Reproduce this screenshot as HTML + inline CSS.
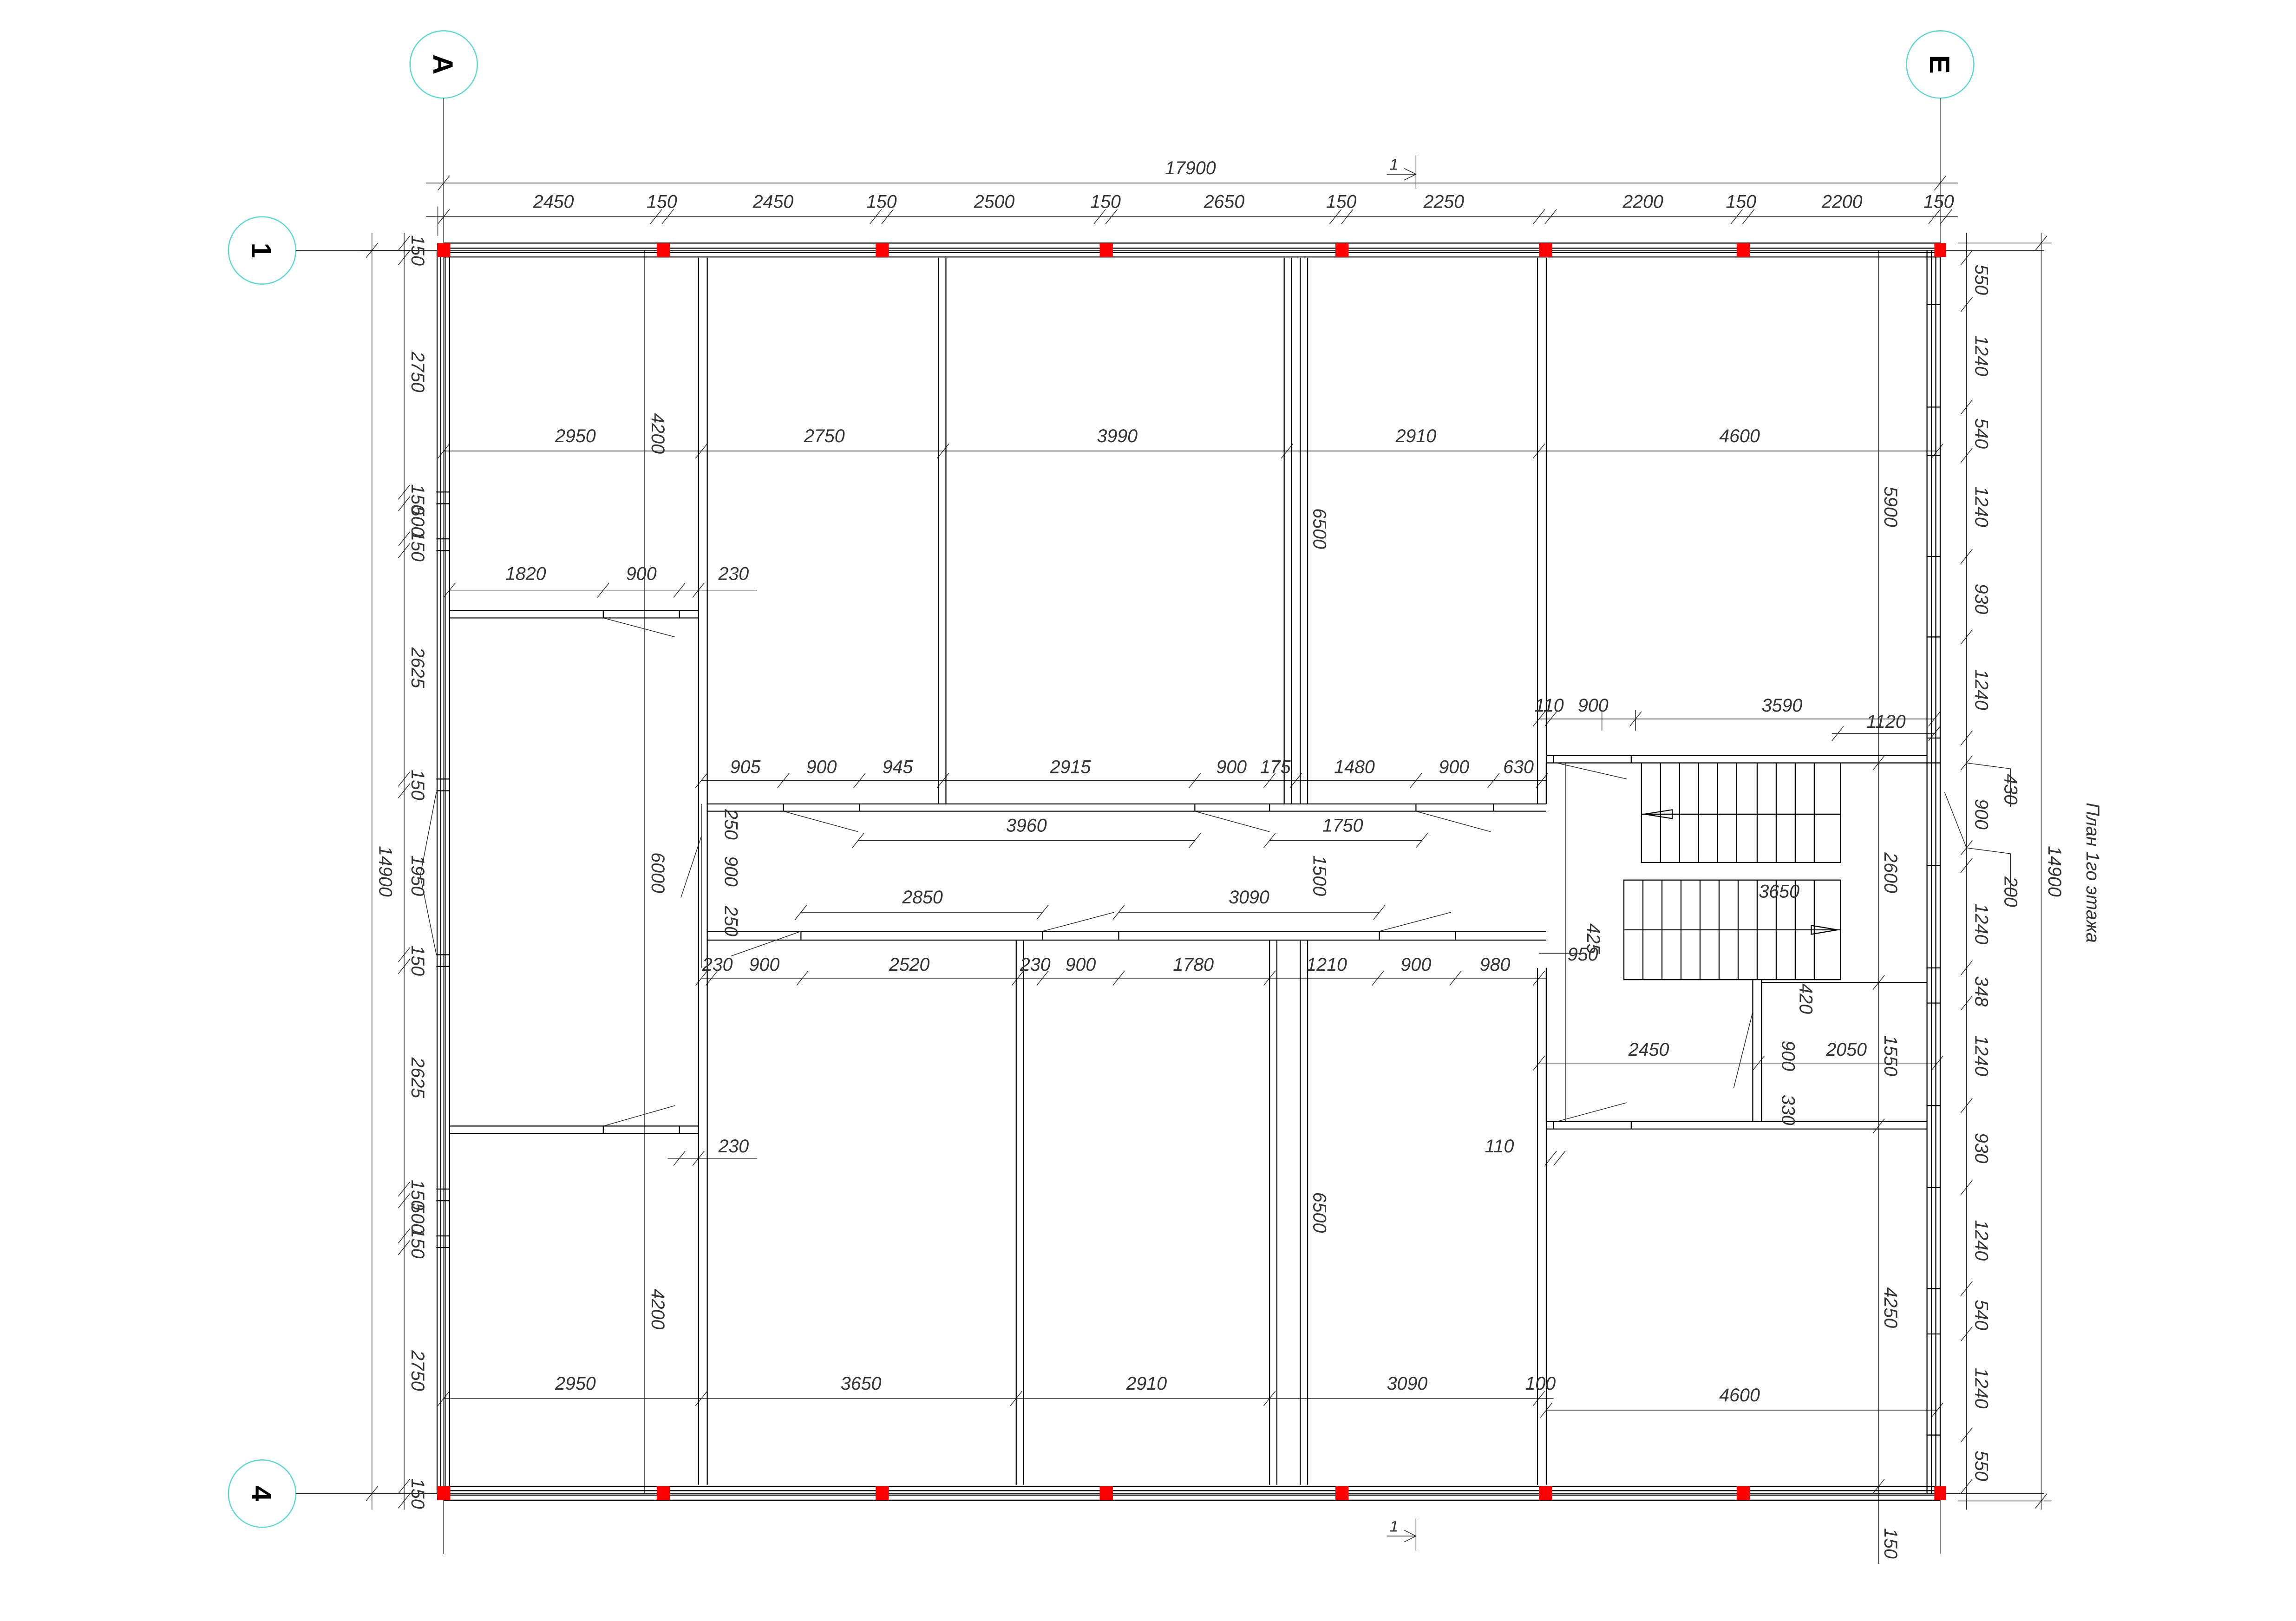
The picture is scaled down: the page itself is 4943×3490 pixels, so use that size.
<!DOCTYPE html>
<html><head><meta charset="utf-8"><style>
html,body{margin:0;padding:0;background:#fff}
svg{display:block}
.w{stroke:#000;stroke-width:.7;fill:none}
.t{stroke:#222;stroke-width:.45;fill:none}
.d{font-family:"Liberation Sans",sans-serif;font-style:italic;font-size:12.5px;fill:#333;text-anchor:middle}
.ax{font-family:"Liberation Sans",sans-serif;font-weight:bold;font-size:19px;fill:#000;text-anchor:middle}
.c{fill:none;stroke:#5fd6d0;stroke-width:.8}
.col{fill:#f00}
</style></head><body>
<svg width="4943" height="3490" viewBox="-1 -1 1568 1107" preserveAspectRatio="none" xmlns="http://www.w3.org/2000/svg">
<defs><path id="k" d="M-4 5L4 -5" stroke="#222" stroke-width=".45"/></defs>
<!-- axis circles -->
<circle class="c" cx="302" cy="43" r="23"/><circle class="c" cx="1324" cy="43" r="23"/>
<circle class="c" cx="178" cy="170" r="23"/><circle class="c" cx="178" cy="1019" r="23"/>
<text class="ax" transform="translate(302 43) rotate(90)" y="7">А</text>
<text class="ax" transform="translate(1324 43) rotate(90)" y="7">Е</text>
<text class="ax" transform="translate(178 170) rotate(90)" y="7">1</text>
<text class="ax" transform="translate(178 1019) rotate(90)" y="7">4</text>
<g class="t">
<path d="M302 66V1060M1324 66V1060M201 170H1395M201 1019H1395"/>
<!-- top dims -->
<path d="M290 124H1336M290 147H1336M966 105V128M946 118H966M298 140V160"/>
<path d="M958 114L966 118L958 122"/>
<path d="M966 1036V1058M946 1048H966M958 1044L966 1048L958 1052"/>
<!-- left dims -->
<path d="M253 158V1030M275 158V1030M245 170H290M245 1019H290"/>
<!-- right dims -->
<path d="M1342 158V1030M1393 158V1030M1336 165H1400M1336 1024H1400"/>
<path d="M1342 520L1372 524V550M1342 578L1372 582V610M1327 540L1342 578"/>
<!-- interior dims -->
<path d="M302 307H1322M439 170V1019M1282 170V1067"/>
<path d="M306 402H516M455 790H516"/>
<path d="M478 532H1055M585 573H815M866 573H970M546 622H711M763 622H941M478 667H1055"/>
<path d="M302 954H1060M1055 962H1322M1050 725H1322M1050 490H1320M1250 500H1320"/>
<path d="M1116 484V498M1093 484V498"/>
<path d="M478 548V660"/>
<path d="M1068 520V765"/>
</g>
<!-- ticks -->
<g>
<use href="#k" x="302" y="124"/><use href="#k" x="1324" y="124"/>
<use href="#k" x="302" y="147"/><use href="#k" x="447" y="147"/><use href="#k" x="455" y="147"/><use href="#k" x="597" y="147"/><use href="#k" x="605" y="147"/><use href="#k" x="750" y="147"/><use href="#k" x="758" y="147"/><use href="#k" x="911" y="147"/><use href="#k" x="919" y="147"/><use href="#k" x="1050" y="147"/><use href="#k" x="1058" y="147"/><use href="#k" x="1185" y="147"/><use href="#k" x="1193" y="147"/><use href="#k" x="1320" y="147"/><use href="#k" x="1328" y="147"/>
<use href="#k" x="253" y="170"/><use href="#k" x="253" y="1019"/><use href="#k" x="1393" y="165"/><use href="#k" x="1393" y="1024"/>
<use href="#k" x="275" y="165"/><use href="#k" x="275" y="175"/><use href="#k" x="275" y="335"/><use href="#k" x="275" y="343"/><use href="#k" x="275" y="367"/><use href="#k" x="275" y="375"/><use href="#k" x="275" y="531"/><use href="#k" x="275" y="539"/><use href="#k" x="275" y="651"/><use href="#k" x="275" y="659"/><use href="#k" x="275" y="811"/><use href="#k" x="275" y="819"/><use href="#k" x="275" y="843"/><use href="#k" x="275" y="851"/><use href="#k" x="275" y="1014"/><use href="#k" x="275" y="1024"/>
<use href="#k" x="1342" y="175"/><use href="#k" x="1342" y="207"/><use href="#k" x="1342" y="277"/><use href="#k" x="1342" y="310"/><use href="#k" x="1342" y="379"/><use href="#k" x="1342" y="434"/><use href="#k" x="1342" y="503"/><use href="#k" x="1342" y="520"/><use href="#k" x="1342" y="578"/><use href="#k" x="1342" y="590"/><use href="#k" x="1342" y="660"/><use href="#k" x="1342" y="684"/><use href="#k" x="1342" y="754"/><use href="#k" x="1342" y="810"/><use href="#k" x="1342" y="879"/><use href="#k" x="1342" y="910"/><use href="#k" x="1342" y="979"/><use href="#k" x="1342" y="1014"/>
<use href="#k" x="302" y="307"/><use href="#k" x="478" y="307"/><use href="#k" x="643" y="307"/><use href="#k" x="878" y="307"/><use href="#k" x="1050" y="307"/><use href="#k" x="1322" y="307"/>
<use href="#k" x="306" y="402"/><use href="#k" x="411" y="402"/><use href="#k" x="463" y="402"/><use href="#k" x="476" y="402"/><use href="#k" x="463" y="790"/><use href="#k" x="476" y="790"/>
<use href="#k" x="478" y="532"/><use href="#k" x="534" y="532"/><use href="#k" x="586" y="532"/><use href="#k" x="643" y="532"/><use href="#k" x="815" y="532"/><use href="#k" x="866" y="532"/><use href="#k" x="884" y="532"/><use href="#k" x="966" y="532"/><use href="#k" x="1019" y="532"/><use href="#k" x="1052" y="532"/>
<use href="#k" x="585" y="573"/><use href="#k" x="815" y="573"/><use href="#k" x="866" y="573"/><use href="#k" x="970" y="573"/>
<use href="#k" x="546" y="622"/><use href="#k" x="711" y="622"/><use href="#k" x="763" y="622"/><use href="#k" x="941" y="622"/>
<use href="#k" x="478" y="667"/><use href="#k" x="485" y="667"/><use href="#k" x="547" y="667"/><use href="#k" x="694" y="667"/><use href="#k" x="711" y="667"/><use href="#k" x="763" y="667"/><use href="#k" x="866" y="667"/><use href="#k" x="940" y="667"/><use href="#k" x="993" y="667"/><use href="#k" x="1050" y="667"/>
<use href="#k" x="302" y="954"/><use href="#k" x="478" y="954"/><use href="#k" x="693" y="954"/><use href="#k" x="866" y="954"/><use href="#k" x="1050" y="954"/><use href="#k" x="1055" y="962"/><use href="#k" x="1322" y="962"/>
<use href="#k" x="1050" y="725"/><use href="#k" x="1200" y="725"/><use href="#k" x="1322" y="725"/>
<use href="#k" x="1050" y="490"/><use href="#k" x="1058" y="490"/><use href="#k" x="1116" y="490"/><use href="#k" x="1320" y="490"/><use href="#k" x="1254" y="500"/><use href="#k" x="1320" y="500"/>
<use href="#k" x="1058" y="790"/><use href="#k" x="1064" y="790"/>
<use href="#k" x="1282" y="520"/><use href="#k" x="1282" y="670"/><use href="#k" x="1282" y="768"/><use href="#k" x="1282" y="1014"/>
</g>
<!-- walls -->
<g class="w">
<path d="M302 165H1324M302 168.5H1324M302 171.5H1324M302 174.5H1324"/>
<path d="M302 1014H1324M302 1017H1324M302 1020H1324M302 1023.5H1324"/>
<path d="M297.5 170V1019M300 170V1019M303 170V1019M306 170V1019"/>
<path d="M1315 170V1019M1318 170V1019M1321 170V1019M1324 170V1019"/>
<path d="M297 335H306M297 343H306M297 367H306M297 375H306M297 531H306M297 539H306M297 651H306M297 659H306M297 811H306M297 819H306M297 843H306M297 851H306"/>
<path d="M1315 207H1324M1315 277H1324M1315 310H1324M1315 379H1324M1315 434H1324M1315 503H1324M1315 520H1324M1315 590H1324M1315 660H1324M1315 684H1324M1315 754H1324M1315 810H1324M1315 879H1324M1315 910H1324M1315 979H1324"/>
<path d="M476 175V1013M482 175V1013"/>
<path d="M640 175V548M645 175V548"/>
<path d="M876 175V548M881 175V548M887 175V548M892 175V548"/>
<path d="M866 641V1013M871 641V1013M887 641V1013M892 641V1013"/>
<path d="M1049 175V548M1055 175V548M1049 660V1013M1055 660V1013"/>
<path d="M693 641V1013M698 641V1013"/>
<path d="M482 548H1055M482 553H1055M482 635H1055M482 641H1055"/>
<path d="M534 548V553M586 548V553M815 548V553M866 548V553M966 548V553M1019 548V553"/>
<path d="M546 635V641M711 635V641M763 635V641M941 635V641M993 635V641"/>
<path d="M306 416H476M306 421H476M411 416V421M463 416V421"/>
<path d="M306 768H476M306 773H476M411 768V773M463 768V773"/>
<path d="M1055 515H1315M1055 520H1315M1060 515V520M1113 515V520"/>
<path d="M1055 765H1315M1055 770H1315M1060 765V770M1113 765V770"/>
<path d="M1055 520V548M1055 660V765"/>
<path d="M1196 668V765M1202 668V765M1202 670H1315"/>
<path d="M1120 520V588H1256V520M1108 600H1256V668H1108Z"/>
<path d="M1133 520V588M1146 520V588M1159 520V588M1172 520V588M1185 520V588M1199 520V588M1212 520V588M1225 520V588M1238 520V588M1120 555H1256"/>
<path d="M1121 600V668M1134 600V668M1147 600V668M1160 600V668M1173 600V668M1186 600V668M1199 600V668M1212 600V668M1225 600V668M1238 600V668M1108 634H1256"/>
<path d="M1122 555L1141 552V558Z M1254 634L1236 631V637Z"/>
</g>
<!-- door swings -->
<g class="t">
<path d="M411 421L460 434M411 768L460 754M534 553L585 567M815 553L866 567M966 553L1017 567M546 635L498 652M711 635L760 622M941 635L990 622M1062 520L1110 531M1062 765L1110 752M1196 690L1183 742M478 570L464 612M297 540L286 597L297 651M1050 650L1080 650"/>
</g>
<!-- columns -->
<g class="col">
<rect x="297.5" y="165" width="9" height="9.5"/><rect x="447.5" y="165" width="9" height="9.5"/><rect x="597" y="165" width="9" height="9.5"/><rect x="750" y="165" width="9" height="9.5"/><rect x="911" y="165" width="9" height="9.5"/><rect x="1050" y="165" width="9" height="9.5"/><rect x="1185" y="165" width="9" height="9.5"/><rect x="1320" y="165" width="8" height="9.5"/>
<rect x="297.5" y="1014" width="9" height="9.5"/><rect x="447.5" y="1014" width="9" height="9.5"/><rect x="597" y="1014" width="9" height="9.5"/><rect x="750" y="1014" width="9" height="9.5"/><rect x="911" y="1014" width="9" height="9.5"/><rect x="1050" y="1014" width="9" height="9.5"/><rect x="1185" y="1014" width="9" height="9.5"/><rect x="1320" y="1014" width="8" height="9.5"/>
</g>
<!-- texts -->
<g class="d">
<text x="812" y="118">17900</text><text x="951" y="115" style="font-size:11px">1</text><text x="951" y="1045" style="font-size:11px">1</text>
<text x="377" y="141">2450</text><text x="451" y="141">150</text><text x="527" y="141">2450</text><text x="601" y="141">150</text><text x="678" y="141">2500</text><text x="754" y="141">150</text><text x="835" y="141">2650</text><text x="915" y="141">150</text><text x="985" y="141">2250</text><text x="1121" y="141">2200</text><text x="1188" y="141">150</text><text x="1257" y="141">2200</text><text x="1323" y="141">150</text>
<text x="392" y="301">2950</text><text x="562" y="301">2750</text><text x="762" y="301">3990</text><text x="966" y="301">2910</text><text x="1187" y="301">4600</text>
<text x="358" y="395">1820</text><text x="437" y="395">900</text><text x="500" y="395">230</text><text x="500" y="786">230</text><text x="1023" y="786">110</text>
<text x="1057" y="485">110</text><text x="1087" y="485">900</text><text x="1216" y="485">3590</text><text x="1287" y="496">1120</text>
<text x="508" y="527">905</text><text x="560" y="527">900</text><text x="612" y="527">945</text><text x="730" y="527">2915</text><text x="840" y="527">900</text><text x="870" y="527">175</text><text x="924" y="527">1480</text><text x="992" y="527">900</text><text x="1036" y="527">630</text>
<text x="700" y="567">3960</text><text x="916" y="567">1750</text><text x="629" y="616">2850</text><text x="852" y="616">3090</text>
<text x="489" y="662">230</text><text x="521" y="662">900</text><text x="620" y="662">2520</text><text x="706" y="662">230</text><text x="737" y="662">900</text><text x="814" y="662">1780</text><text x="905" y="662">1210</text><text x="966" y="662">900</text><text x="1020" y="662">980</text>
<text x="1214" y="612">3650</text><text x="1125" y="720">2450</text><text x="1260" y="720">2050</text><text x="1080" y="655">950</text>
<text x="392" y="948">2950</text><text x="587" y="948">3650</text><text x="782" y="948">2910</text><text x="960" y="948">3090</text><text x="1051" y="948">100</text><text x="1187" y="956">4600</text>
</g>
<g class="d">
<text transform="translate(284 170) rotate(90)" y="4">150</text>
<text transform="translate(284 253) rotate(90)" y="4">2750</text>
<text transform="translate(284 340) rotate(90)" y="4">150</text>
<text transform="translate(284 355) rotate(90)" y="4">500</text>
<text transform="translate(284 372) rotate(90)" y="4">150</text>
<text transform="translate(284 455) rotate(90)" y="4">2625</text>
<text transform="translate(284 535) rotate(90)" y="4">150</text>
<text transform="translate(284 597) rotate(90)" y="4">1950</text>
<text transform="translate(284 655) rotate(90)" y="4">150</text>
<text transform="translate(284 735) rotate(90)" y="4">2625</text>
<text transform="translate(284 815) rotate(90)" y="4">150</text>
<text transform="translate(284 831) rotate(90)" y="4">500</text>
<text transform="translate(284 848) rotate(90)" y="4">150</text>
<text transform="translate(284 935) rotate(90)" y="4">2750</text>
<text transform="translate(284 1019) rotate(90)" y="4">150</text>
<text transform="translate(262 594) rotate(90)" y="4">14900</text>
<text transform="translate(448 295) rotate(90)" y="4">4200</text>
<text transform="translate(448 893) rotate(90)" y="4">4200</text>
<text transform="translate(448 595) rotate(90)" y="4">6000</text>
<text transform="translate(900 360) rotate(90)" y="4">6500</text>
<text transform="translate(900 827) rotate(90)" y="4">6500</text>
<text transform="translate(900 597) rotate(90)" y="4">1500</text>
<text transform="translate(498 562) rotate(90)" y="4">250</text>
<text transform="translate(498 594) rotate(90)" y="4">900</text>
<text transform="translate(498 628) rotate(90)" y="4">250</text>
<text transform="translate(1087 640) rotate(90)" y="4">425</text>
<text transform="translate(1232 681) rotate(90)" y="4">420</text>
<text transform="translate(1220 720) rotate(90)" y="4">900</text>
<text transform="translate(1220 757) rotate(90)" y="4">330</text>
<text transform="translate(1290 345) rotate(90)" y="4">5900</text>
<text transform="translate(1290 595) rotate(90)" y="4">2600</text>
<text transform="translate(1290 720) rotate(90)" y="4">1550</text>
<text transform="translate(1290 892) rotate(90)" y="4">4250</text>
<text transform="translate(1290 1053) rotate(90)" y="4">150</text>
<text transform="translate(1352 190) rotate(90)" y="4">550</text>
<text transform="translate(1352 242) rotate(90)" y="4">1240</text>
<text transform="translate(1352 295) rotate(90)" y="4">540</text>
<text transform="translate(1352 345) rotate(90)" y="4">1240</text>
<text transform="translate(1352 408) rotate(90)" y="4">930</text>
<text transform="translate(1352 470) rotate(90)" y="4">1240</text>
<text transform="translate(1372 538) rotate(90)" y="4">430</text>
<text transform="translate(1352 555) rotate(90)" y="4">900</text>
<text transform="translate(1372 608) rotate(90)" y="4">200</text>
<text transform="translate(1352 630) rotate(90)" y="4">1240</text>
<text transform="translate(1352 676) rotate(90)" y="4">348</text>
<text transform="translate(1352 720) rotate(90)" y="4">1240</text>
<text transform="translate(1352 783) rotate(90)" y="4">930</text>
<text transform="translate(1352 846) rotate(90)" y="4">1240</text>
<text transform="translate(1352 897) rotate(90)" y="4">540</text>
<text transform="translate(1352 947) rotate(90)" y="4">1240</text>
<text transform="translate(1352 1000) rotate(90)" y="4">550</text>
<text transform="translate(1402 594) rotate(90)" y="4">14900</text>
<text transform="translate(1428 595) rotate(90)" y="4">План 1го этажа</text>
</g>
</svg>
</body></html>
